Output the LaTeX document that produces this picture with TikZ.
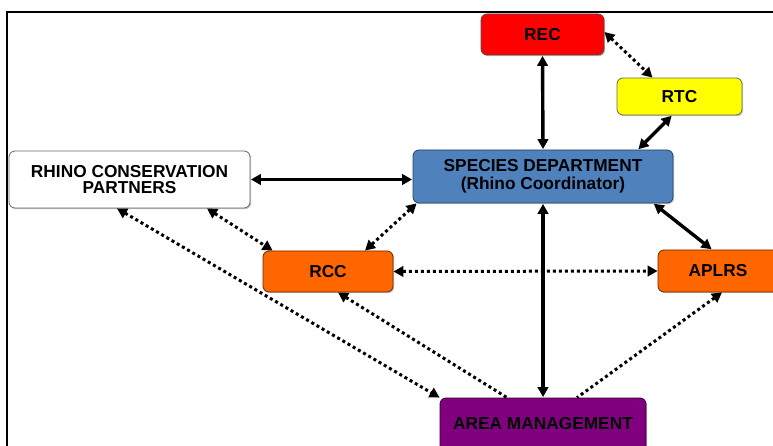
\documentclass[tikz,border=0pt]{standalone}
\usepackage{fontspec}
\setmainfont{Liberation Sans}
\usetikzlibrary{arrows.meta,shadows}
\definecolor{recred}{HTML}{FF0000}
\definecolor{rtcyellow}{HTML}{FFFF00}
\definecolor{specblue}{HTML}{4F81BD}
\definecolor{rccorange}{HTML}{FF6600}
\definecolor{areapurple}{HTML}{800080}
\newcommand{\boxfont}{\bfseries\fontsize{17.3}{19}\selectfont}
\tikzset{
  box/.style={rectangle, rounded corners=6pt, draw=#1, line width=0.8pt,
    font=\boxfont, text=black, align=center,
    inner sep=0pt, drop shadow={shadow xshift=1.2pt, shadow yshift=-1.2pt, opacity=0.45}},
  solidlink/.style={line width=3.4pt, {Triangle[length=10pt,width=10.5pt]}-{Triangle[length=10pt,width=10.5pt]}, shorten <=0.5pt, shorten >=0.5pt},
  dotlink/.style={line width=3pt, dash pattern=on 3pt off 3pt, {Triangle[length=10pt,width=10.5pt]}-{Triangle[length=10pt,width=10.5pt]}},
  dotlinkone/.style={line width=3pt, dash pattern=on 3pt off 3pt, {Triangle[length=10pt,width=10.5pt]}-},
}
\begin{document}
\begin{tikzpicture}[x=1pt,y=-1pt]
\useasboundingbox (0,0) rectangle (773,446);
\clip (0,0) rectangle (773,446);
\draw[line width=1.8pt] (7,460) -- (7,12) -- (790,12);

\node[box=black!70, fill=recred, minimum width=123pt, minimum height=41pt] (rec) at (542.5,34.5) {REC};
\node[box=black!60, fill=rtcyellow, minimum width=125pt, minimum height=37pt] (rtc) at (679.5,96.5) {RTC};
\node[box=specblue!50!black, fill=specblue, minimum width=260pt, minimum height=53pt] (spec) at (543,176.5) {SPECIES DEPARTMENT\\[-1.5pt](Rhino Coordinator)};
\node[box=black!60, fill=white, minimum width=241pt, minimum height=57pt] (rcp) at (129.5,179.5) {RHINO CONSERVATION\\[-2.5pt]PARTNERS};
\node[box=rccorange!40!black, fill=rccorange, minimum width=130pt, minimum height=41pt] (rcc) at (328,271.5) {RCC};
\node[box=rccorange!40!black, fill=rccorange, minimum width=122pt, minimum height=42pt] (aplrs) at (719,271) {\hspace*{-2pt}APLRS};
\node[box=areapurple!40!black, fill=areapurple, minimum width=206pt, minimum height=54pt] (area) at (543,425) {};
\node[font=\boxfont, inner sep=0pt] (arealabel) at (543,424) {AREA MANAGEMENT};

% solid connectors
\draw[solidlink] (rec.south) -- (spec.north);
\draw[solidlink] ([xshift=-7.5pt]rtc.south) -- ([xshift=95pt]spec.north);
\draw[solidlink] ([yshift=-3pt]spec.west) -- (rcp.east);
\draw[solidlink] ([xshift=-20pt]spec.south east) -- ([xshift=-7pt]aplrs.north);
\draw[solidlink] (spec.south) -- (area.north);

% dotted connectors
\draw[dotlink] ([yshift=2.5pt]rec.east) -- ([xshift=-27pt]rtc.north);
\draw[dotlink] ([xshift=4pt]spec.south west) -- ([xshift=37pt]rcc.north);
\draw[dotlink] (rcc.east) -- (aplrs.west);
\draw[dotlink] ([xshift=77.5pt]rcp.south) -- ([xshift=10pt]rcc.north west);
\draw[dotlink] ([xshift=-12.5pt]rcp.south) -- (area.north west);
\draw[dotlinkone] ([xshift=10pt]rcc.south) -- ([xshift=-36pt]area.north);
\draw[dotlinkone] ([xshift=3pt]aplrs.south) -- ([xshift=34pt]area.north);
\end{tikzpicture}
\end{document}
